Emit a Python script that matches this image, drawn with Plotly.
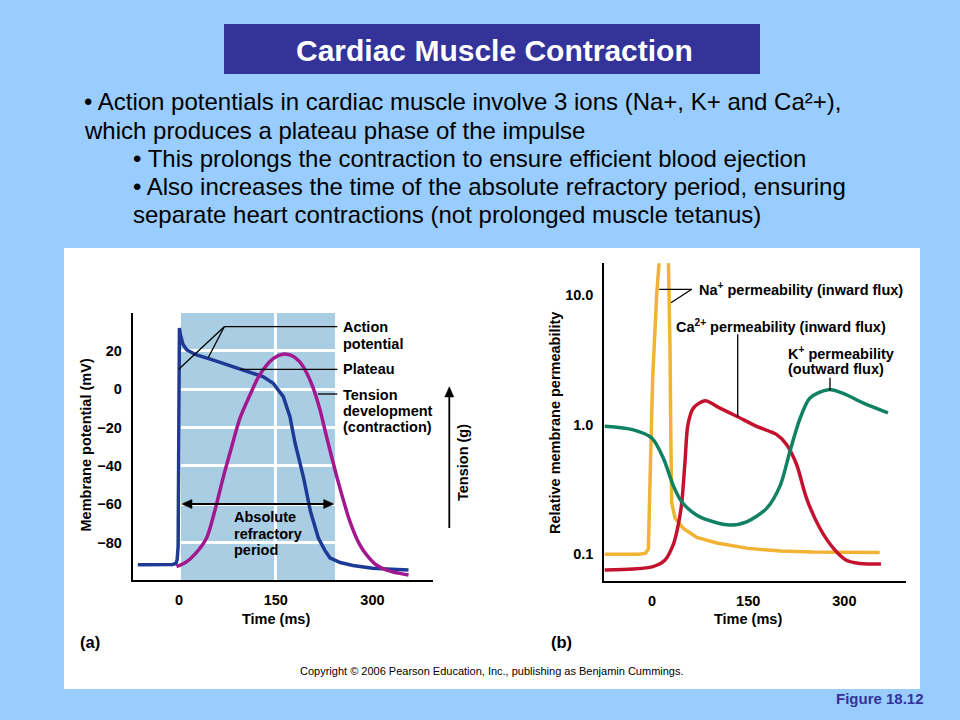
import plotly.graph_objects as go

# ---------------- data ----------------
# Panel (a): action potential (mV) and tension development
ap_t = [-64, -30, -10, -5, -3, -1.5, -0.5, 0.5, 2, 4, 6.2, 12, 27, 52, 94, 130, 146, 161.7, 172, 180, 193, 204, 216, 226, 234, 250, 270, 300, 330, 356]
ap_v = [-91.7, -91.7, -91.5, -91, -89, -82, -40, 32, 28.5, 25.5, 23.3, 20.5, 17.9, 15.3, 10.4, 6.6, 3.1, -3.9, -14.3, -28.2, -46, -64, -77.6, -84, -88, -90.5, -92, -93.5, -94, -94.4]
ten_t = [-4, 10, 25, 42.6, 55, 68.5, 80, 94.6, 110, 125, 146, 161, 175, 187, 198, 208, 218, 229, 245, 265, 280, 291, 305, 322, 340, 356]
ten_v = [-92.6, -90.5, -86, -77.7, -64, -46, -32, -15, -3, 7.5, 16, 18.3, 17.5, 14.4, 8.5, 0.7, -10, -25, -46, -69, -81, -86.5, -91.5, -94.4, -96, -97]
refractory = [0, 242]          # ms, shaded band / arrow
a_xticks = [0, 150, 300]
a_xticklabels = ["0", "150", "300"]
a_yticks = [20, 0, -20, -40, -60, -80]
a_yticklabels = ["20", "0", "\u221220", "\u221240", "\u221260", "\u221280"]

# Panel (b): relative membrane permeability (log)
na_t = [-74, -20, -10, -5.7, -3, 1, 7.3, 11.5, 25.5, 28, 29.5, 30.7, 36, 49, 70, 101, 150, 200, 250, 300, 355]
na_p = [0.1, 0.1, 0.102, 0.11, 0.385, 2.27, 10, 19, 19, 4.1, 0.7, 0.25, 0.19, 0.158, 0.135, 0.122, 0.111, 0.106, 0.104, 0.103, 0.103]
ca_t = [-74, -30, 0, 20, 33, 40, 46, 51.5, 56, 64.5, 82.6, 106, 132, 163, 194, 210, 225.6, 241, 262, 283, 303, 324, 357]
ca_p = [0.0756, 0.077, 0.080, 0.090, 0.118, 0.16, 0.24, 0.52, 1.0, 1.34, 1.53, 1.34, 1.16, 0.97, 0.84, 0.70, 0.49, 0.27, 0.158, 0.111, 0.090, 0.085, 0.084]
k_t = [-74, -29, 0, 17.7, 33, 46, 70, 95.6, 121.6, 147.6, 178.8, 200, 215, 231, 246, 275, 298, 329, 368]
k_p = [0.97, 0.91, 0.785, 0.55, 0.34, 0.255, 0.20, 0.178, 0.168, 0.178, 0.226, 0.34, 0.62, 1.12, 1.60, 1.86, 1.74, 1.47, 1.23]
b_yticks = [0.1, 1, 10]
b_yticklabels = ["0.1", "1.0", "10.0"]

# ---------------- helpers ----------------
W, H = 960, 720
def px(x):
    return x / W
def py(y):
    return 1 - y / H

FONT = "Liberation Sans, Arial, sans-serif"
C_AP = "#1E3A96"
C_TEN = "#A3188F"
C_NA = "#F2B233"
C_CA = "#C4122E"
C_K = "#108263"

fig = go.Figure()

fig.add_trace(go.Scatter(x=ap_t, y=ap_v, mode="lines", line=dict(color=C_AP, width=3.5),
                         xaxis="x", yaxis="y", showlegend=False))
fig.add_trace(go.Scatter(x=ten_t, y=ten_v, mode="lines", line=dict(color=C_TEN, width=3.5, shape="spline", smoothing=0.8),
                         xaxis="x", yaxis="y", showlegend=False))
fig.add_trace(go.Scatter(x=na_t, y=na_p, mode="lines", line=dict(color=C_NA, width=3.5),
                         xaxis="x2", yaxis="y2", showlegend=False))
fig.add_trace(go.Scatter(x=ca_t, y=ca_p, mode="lines", line=dict(color=C_CA, width=3.5, shape="spline", smoothing=0.8),
                         xaxis="x2", yaxis="y2", showlegend=False))
fig.add_trace(go.Scatter(x=k_t, y=k_p, mode="lines", line=dict(color=C_K, width=3.5, shape="spline", smoothing=0.8),
                         xaxis="x2", yaxis="y2", showlegend=False))

tickfont = dict(family=FONT, size=14.5, color="black", weight="bold")
axis_common = dict(showgrid=True, gridcolor="white", gridwidth=2.5, zeroline=False,
                   showline=True, linecolor="black", linewidth=2,
                   ticks="outside", ticklen=6, tickcolor="rgba(0,0,0,0)", tickfont=tickfont)

fig.update_layout(
    width=W, height=H, autosize=False,
    margin=dict(l=0, r=0, t=0, b=0),
    paper_bgcolor="#99CCFF",
    plot_bgcolor="#CADFED",
    xaxis=dict(domain=[px(132.7), px(433)], range=[-72, 394], tickvals=a_xticks, ticktext=a_xticklabels,
               anchor="y", **axis_common),
    yaxis=dict(domain=[py(580), py(313)], range=[-99.6, 39.8], tickvals=a_yticks, ticktext=a_yticklabels,
               anchor="x", **axis_common),
    xaxis2=dict(domain=[px(604.3), px(905.7)], range=[-74.4, 395.6], tickvals=a_xticks, ticktext=a_xticklabels,
                anchor="y2", **axis_common),
    yaxis2=dict(domain=[py(580.7), py(263.3)], type="log", range=[-1.204, 1.244], tickvals=b_yticks,
                ticktext=b_yticklabels, anchor="x2", **axis_common),
)

shapes = []
# white panel
shapes.append(dict(type="rect", xref="paper", yref="paper", x0=px(64), x1=px(920), y0=py(689), y1=py(248),
                   fillcolor="white", line=dict(width=0), layer="below"))
# title box
shapes.append(dict(type="rect", xref="paper", yref="paper", x0=px(224), x1=px(760), y0=py(74), y1=py(24),
                   fillcolor="#333399", line=dict(width=0), layer="below"))
# refractory shaded band in (a)
shapes.append(dict(type="rect", xref="x", yref="y domain", x0=refractory[0], x1=refractory[1], y0=0, y1=1,
                   fillcolor="#A9CDE3", line=dict(width=0), layer="below"))

def seg(x0, y0, x1, y1, w=1.3):
    shapes.append(dict(type="line", xref="paper", yref="paper", x0=px(x0), y0=py(y0), x1=px(x1), y1=py(y1),
                       line=dict(color="black", width=w)))

def tri(pts):
    d = "M " + " L ".join(f"{px(a):.5f},{py(b):.5f}" for a, b in pts) + " Z"
    shapes.append(dict(type="path", xref="paper", yref="paper", path=d, fillcolor="black",
                       line=dict(color="black", width=0.5)))

# (a) leader lines
seg(337.3, 326.7, 224.3, 326.7)
seg(224.3, 326.7, 178.7, 369.3)
seg(224.3, 326.7, 208.3, 357.5)
seg(337.3, 369.3, 240, 369.3)
seg(337.3, 394, 318, 394)
# (b) leader lines
seg(659.3, 289.3, 691.7, 289.3)
seg(691.7, 289.3, 671, 302.7)
seg(737.7, 334.3, 737.7, 416.7)
seg(830, 377.7, 830, 390.7)

# absolute refractory period double arrow
seg(188, 504, 328, 504, w=1.8)
tri([(181.7, 504), (192, 499.5), (192, 508.5)])
tri([(334, 504), (323.7, 499.5), (323.7, 508.5)])
# tension arrow
seg(449.3, 528, 449.3, 394, w=1.8)
tri([(449.3, 386.7), (444.8, 397), (453.8, 397)])

fig.update_layout(shapes=shapes)

ann = []
def text(x, y, s, size=14.5, bold=True, xanchor="left", color="black", angle=0, yanchor="middle"):
    ann.append(dict(x=px(x), y=py(y), xref="paper", yref="paper", text=s, showarrow=False,
                    xanchor=xanchor, yanchor=yanchor, textangle=angle,
                    font=dict(family=FONT, size=size, color=color, weight="bold" if bold else "normal")))

# title and bullets
text(494.5, 51, "Cardiac Muscle Contraction", size=30, xanchor="center", color="white")
text(82, 101.5, "\u2022 Action potentials in cardiac muscle involve 3 ions (Na+, K+ and Ca\u00b2+),", size=24, bold=False)
text(82, 130, "which produces a plateau phase of the impulse", size=24, bold=False)
text(131, 158.5, "\u2022 This prolongs the contraction to ensure efficient blood ejection", size=24, bold=False)
text(131, 186.5, "\u2022 Also increases the time of the absolute refractory period, ensuring", size=24, bold=False)
text(131, 214, "separate heart contractions (not prolonged muscle tetanus)", size=24, bold=False)

# panel (a) labels
text(341, 327, "Action")
text(341, 343.5, "potential")
text(341, 369.3, "Plateau")
text(341, 395, "Tension")
text(341, 411, "development")
text(341, 427, "(contraction)")
text(232, 517, "Absolute")
text(232, 533.5, "refractory")
text(232, 549.7, "period")
text(85, 445.5, "Membrane potential (mV)", xanchor="center", angle=-90)
text(463, 463, "Tension (g)", xanchor="center", angle=-90)
text(276, 619, "Time (ms)", xanchor="center")
text(78, 641.7, "(a)", size=16.5)

# panel (b) labels
text(696.5, 289.3, "Na<sup>+</sup> permeability (inward flux)")
text(674, 326, "Ca<sup>2+</sup> permeability (inward flux)")
text(786, 352.7, "K<sup>+</sup> permeability")
text(786, 369, "(outward flux)")
text(555, 423, "Relative membrane permeability", xanchor="center", angle=-90)
text(748, 619, "Time (ms)", xanchor="center")
text(549, 641.7, "(b)", size=16.5)

# footer
text(491.5, 671, "Copyright \u00a9 2006 Pearson Education, Inc., publishing as Benjamin Cummings.", size=11, bold=False, xanchor="center")
text(926, 698.5, "Figure 18.12", size=15, xanchor="right", color="#333399")

fig.update_layout(annotations=ann)

fig.write_html("out.html", config={"displayModeBar": False},
               post_script="document.body.style.margin='0';")
